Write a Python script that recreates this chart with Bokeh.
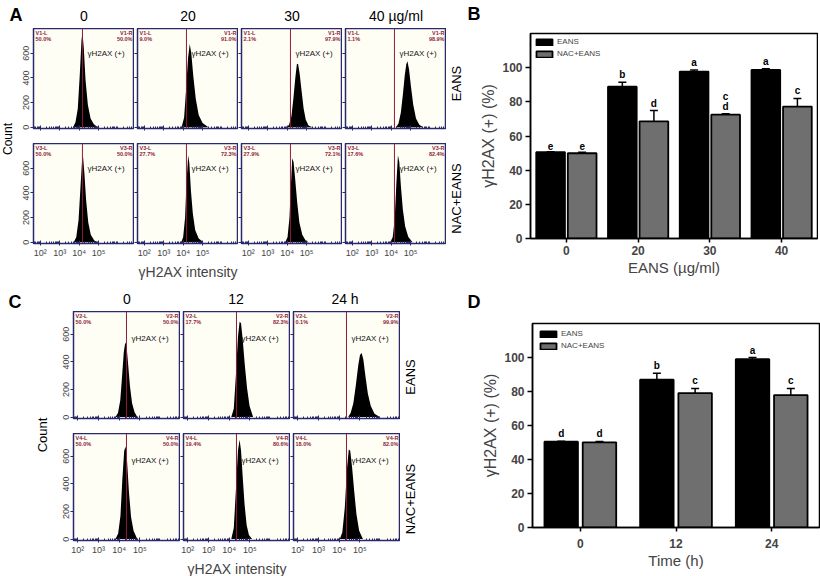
import math
from bokeh.plotting import figure
from bokeh.layouts import row, column
from bokeh.models import (Range1d, FixedTicker, Span, ColumnDataSource, FactorRange,
                          Whisker, TeeHead)
from bokeh.transform import dodge
from bokeh.core.properties import value
from bokeh.embed import file_html
from bokeh.resources import INLINE

FONT = "Liberation Sans"

# ---------------------------------------------------------------- data
row_names = ["EANS", "NAC+EANS"]
A_doses = ["0", "20", "30", "40 µg/ml"]
C_times = ["0", "12", "24 h"]
x_tick_labels = {100: "10²", 1000: "10³", 10000: "10⁴", 100000: "10⁵"}
count_ticks = [0, 200, 400, 600]
hist_xlabel = "γH2AX intensity"
gate_text = "γH2AX (+)"

A_gate = 4.17   # log10 intensity of the gate
C_gate = 4.35

# panel A histograms (log10 intensity, count)
A_e0_x = [3.69, 3.81, 3.93, 4.03, 4.12, 4.17, 4.24, 4.33, 4.45, 4.59, 4.76, 4.96]
A_e0_n = [0, 40, 150, 420, 700, 770, 640, 380, 180, 70, 25, 0]
A_e20_x = [3.92, 4.05, 4.15, 4.25, 4.34, 4.42, 4.52, 4.65, 4.80, 5.00, 5.30]
A_e20_n = [0, 80, 300, 560, 675, 600, 420, 230, 100, 35, 0]
A_e30_x = [3.98, 4.10, 4.22, 4.32, 4.42, 4.50, 4.56, 4.64, 4.74, 4.85, 4.96, 5.10, 5.30]
A_e30_n = [0, 20, 90, 230, 400, 510, 515, 440, 300, 150, 60, 15, 0]
A_e40_x = [4.25, 4.38, 4.50, 4.60, 4.70, 4.78, 4.84, 4.92, 5.02, 5.14, 5.28, 5.45, 5.65]
A_e40_n = [0, 30, 120, 260, 420, 510, 535, 470, 330, 180, 70, 20, 0]
A_n0_x = [3.72, 3.85, 3.97, 4.07, 4.15, 4.20, 4.27, 4.36, 4.47, 4.60, 4.78, 4.95]
A_n0_n = [0, 40, 180, 450, 660, 695, 560, 340, 160, 60, 15, 0]
A_n20_x = [3.90, 4.00, 4.10, 4.18, 4.26, 4.32, 4.40, 4.50, 4.62, 4.80, 5.05]
A_n20_n = [0, 40, 200, 500, 705, 640, 420, 230, 100, 30, 0]
A_n30_x = [3.90, 4.02, 4.12, 4.20, 4.26, 4.33, 4.42, 4.52, 4.63, 4.78, 4.95, 5.12]
A_n30_n = [0, 40, 200, 480, 680, 650, 500, 320, 160, 60, 15, 0]
A_n40_x = [3.95, 4.08, 4.18, 4.27, 4.35, 4.42, 4.50, 4.60, 4.72, 4.88, 5.10]
A_n40_n = [0, 40, 180, 480, 705, 650, 460, 270, 130, 45, 0]

A_gate_tags = [["V1-L", "V1-R"], ["V3-L", "V3-R"]]
A_pct_L = [[50.0, 9.0, 2.1, 1.1], [50.0, 27.7, 27.9, 17.6]]
A_pct_R = [[50.0, 91.0, 97.9, 98.9], [50.0, 72.3, 72.1, 82.4]]

# panel C histograms
C_e0_x = [3.82, 3.94, 4.05, 4.14, 4.22, 4.29, 4.35, 4.42, 4.52, 4.62, 4.74, 4.87]
C_e0_n = [0, 30, 120, 300, 470, 540, 520, 400, 220, 100, 35, 0]
C_e12_x = [4.10, 4.22, 4.32, 4.42, 4.50, 4.57, 4.65, 4.75, 4.86, 4.98, 5.15]
C_e12_n = [0, 60, 300, 580, 690, 680, 560, 380, 210, 80, 0]
C_e24_x = [4.43, 4.55, 4.68, 4.80, 4.92, 5.00, 5.08, 5.16, 5.26, 5.38, 5.52, 5.70, 5.95]
C_e24_n = [0, 30, 100, 230, 380, 450, 465, 420, 300, 170, 80, 25, 0]
C_n0_x = [3.82, 3.95, 4.06, 4.15, 4.24, 4.31, 4.38, 4.47, 4.57, 4.69, 4.87]
C_n0_n = [0, 40, 170, 430, 640, 670, 560, 340, 160, 60, 0]
C_n12_x = [4.10, 4.22, 4.32, 4.42, 4.50, 4.57, 4.65, 4.74, 4.84, 4.95, 5.10]
C_n12_n = [0, 80, 350, 640, 720, 640, 450, 250, 100, 30, 0]
C_n24_x = [4.03, 4.15, 4.27, 4.38, 4.46, 4.53, 4.62, 4.72, 4.83, 4.96, 5.14]
C_n24_n = [0, 50, 230, 520, 650, 640, 520, 350, 180, 60, 0]

C_gate_tags = [["V2-L", "V2-R"], ["V4-L", "V4-R"]]
C_pct_L = [[50.0, 17.7, 0.1], [50.0, 19.4, 18.0]]
C_pct_R = [[50.0, 82.3, 99.9], [50.0, 80.6, 82.0]]

# panel B bars
B_doses = ["0", "20", "30", "40"]
B_eans = [50.5, 88.9, 97.7, 98.7]
B_eans_err = [0.3, 2.5, 1.0, 0.6]
B_nac = [49.9, 68.6, 72.5, 77.2]
B_nac_err = [0.6, 6.3, 0.5, 4.8]
B_eans_let = ["e", "b", "a", "a"]
B_nac_let = ["e", "d", "c\nd", "c"]

# panel D bars
D_times = ["0", "12", "24"]
D_eans = [50.5, 86.9, 99.0]
D_eans_err = [0.3, 3.9, 1.0]
D_nac = [50.1, 79.1, 77.9]
D_nac_err = [0.5, 2.7, 3.9]
D_eans_let = ["d", "b", "a"]
D_nac_let = ["d", "c", "c"]

bar_yticks = [0, 20, 40, 60, 80, 100]
y_title = "γH2AX (+) (%)"

# ---------------------------------------------------------------- geometry
W = 818
A_FW, A_FH, A_GAP, A_LB, A_BB1, A_BB2, A_CNT, A_LAB = 101, 100, 3, 16, 15, 47, 17, 19
C_FW, C_FH, C_GAP, C_LB, C_BB1, C_BB2, C_CNT, C_LAB = 107, 107, 2, 23, 15, 34, 50, 20
A_XLOG, A_YLIM = (1.65, 6.85), (-10, 800)
C_XLOG, C_YLIM = (1.80, 6.95), (-10, 765)
BAR_FW = 287
TOP_STRIP, BOT_STRIP = 28, 21
LETTER_DX = 63

NAVY = "#29296c"
GATE = "#8c1c3c"
GREY = "#6f6f6f"

minor = [m * 10 ** k for k in range(1, 7) for m in range(2, 10)]


def strip(w, h):
    p = figure(x_range=Range1d(0, w), y_range=Range1d(0, h), frame_width=w, frame_height=h,
               min_border_left=0, min_border_right=0, min_border_top=0, min_border_bottom=0,
               x_axis_location=None, y_axis_location=None, toolbar_location=None,
               output_backend="svg", title=None)
    p.outline_line_color = None
    p.grid.visible = False
    return p


def put(p, x, y, t, size, bold=False, align="center", angle=0.0):
    p.text(x=[x], y=[y], text=[t], angle=angle, text_align=align, text_baseline="middle",
           text_font=value(FONT), text_font_size=f"{size}px",
           text_font_style="bold" if bold else "normal", text_color="black")


def hide_labels(ax):
    ax.major_label_text_font_size = "1px"
    ax.major_label_text_color = None
    ax.major_label_standoff = 0


def hist_fig(xs, ns, gate, xlog, ylim, fw, fh, bl, bb, first_col, bottom_row,
             tags, pcts, xlabel=None, label_y=600):
    p = figure(x_axis_type="log", x_range=Range1d(10 ** xlog[0], 10 ** xlog[1]),
               y_range=Range1d(*ylim), frame_width=fw, frame_height=fh,
               min_border_left=bl, min_border_right=0, min_border_top=0, min_border_bottom=bb,
               toolbar_location=None, output_backend="svg", title=None)
    p.background_fill_color = "#fffef4"
    p.outline_line_color = NAVY
    p.outline_line_width = 1.5
    p.grid.visible = False
    p.varea(x=[10 ** v for v in xs], y1=0, y2=ns, fill_color="black")
    p.add_layout(Span(location=10 ** gate, dimension="height", line_color=GATE, line_width=1))
    p.text(x=[10 ** xlog[0]], y=[ylim[1]], text=[f"{tags[0]}\n{pcts[0]:.1f}%"],
           x_offset=2, y_offset=1, text_align="left", text_baseline="top",
           text_font=value(FONT), text_font_size="5.5px", text_font_style="bold",
           text_color=GATE, text_line_height=1.0)
    p.text(x=[10 ** xlog[1]], y=[ylim[1]], text=[f"{tags[1]}\n{pcts[1]:.1f}%"],
           x_offset=-2, y_offset=1, text_align="right", text_baseline="top",
           text_font=value(FONT), text_font_size="5.5px", text_font_style="bold",
           text_color=GATE, text_line_height=1.0)
    p.text(x=[10 ** gate], y=[label_y], text=[gate_text], x_offset=5,
           text_align="left", text_baseline="middle", text_font=value(FONT),
           text_font_size="8px", text_color="#111111")

    xa = p.xaxis[0]
    xa.ticker = FixedTicker(ticks=list(x_tick_labels.keys()), minor_ticks=minor)
    xa.major_label_overrides = dict(x_tick_labels)
    xa.axis_line_color = NAVY
    xa.major_tick_line_color = NAVY
    xa.minor_tick_line_color = NAVY
    xa.major_tick_in, xa.major_tick_out = 3, 2
    xa.minor_tick_in, xa.minor_tick_out = 2, 0
    xa.major_label_text_font = FONT
    if bottom_row:
        xa.major_label_text_font_size = "9px"
        xa.major_label_standoff = 2
    else:
        hide_labels(xa)
    if xlabel:
        xa.axis_label = xlabel
        xa.axis_label_text_font = FONT
        xa.axis_label_text_font_size = "14px"
        xa.axis_label_text_font_style = "normal"
        xa.axis_label_standoff = 3

    ya = p.yaxis[0]
    ya.ticker = FixedTicker(ticks=count_ticks)
    ya.axis_line_color = NAVY
    ya.major_tick_line_color = NAVY
    ya.major_tick_in, ya.major_tick_out = 0, 3
    ya.minor_tick_in, ya.minor_tick_out = 0, 0
    ya.major_label_text_font = FONT
    if first_col:
        ya.major_label_text_font_size = "9px"
        ya.major_label_orientation = "vertical"
        ya.major_label_standoff = 1
    else:
        hide_labels(ya)
    return p


def bar_fig(cats, eans, eerr, nac, nerr, elet, nlet, xlabel, bl, bt, fh, bb, off, bw, lab_sd,
            lg_margin):
    etop = [v + e for v, e in zip(eans, eerr)]
    ntop = [v + e for v, e in zip(nac, nerr)]
    src = ColumnDataSource(dict(cat=cats, eans=eans, nac=nac, etop=etop, ntop=ntop,
                                elet=elet, nlet=nlet))
    p = figure(x_range=FactorRange(factors=cats), y_range=Range1d(0, 120),
               frame_width=BAR_FW, frame_height=fh, min_border_left=bl, min_border_right=1,
               min_border_top=bt, min_border_bottom=bb, toolbar_location=None,
               output_backend="svg", title=None)
    p.grid.visible = False
    p.outline_line_color = "black"
    p.outline_line_width = 1.5
    xe = dodge("cat", -off, range=p.x_range)
    xn = dodge("cat", off, range=p.x_range)
    p.vbar(x=xe, top="eans", width=bw, source=src, fill_color="black",
           line_color="black", line_width=1.8, legend_label="EANS")
    p.vbar(x=xn, top="nac", width=bw, source=src, fill_color=GREY,
           line_color="black", line_width=1.8, legend_label="NAC+EANS")
    for xx, lo, hi in ((xe, "eans", "etop"), (xn, "nac", "ntop")):
        w = Whisker(base=xx, lower=lo, upper=hi, source=src, line_color="black",
                    line_width=1.5, lower_head=None,
                    upper_head=TeeHead(size=8, line_width=1.5, line_color="black"))
        w.level = "overlay"
        p.add_layout(w)
    for xx, yy, tt in ((xe, "etop", "elet"), (xn, "ntop", "nlet")):
        p.text(x=xx, y=yy, text=tt, source=src, text_align="center", text_baseline="bottom",
               y_offset=-2, text_font=value(FONT), text_font_size="10px",
               text_font_style="bold", text_color="black", text_line_height=0.9)
    lg = p.legend[0]
    lg.location = "top_left"
    lg.glyph_width, lg.glyph_height = 20, 8
    lg.label_text_font = FONT
    lg.label_text_font_size = "8px"
    lg.label_height = 9
    lg.spacing = 3
    lg.padding = 2
    lg.margin = lg_margin
    lg.label_standoff = 3
    lg.border_line_color = None
    lg.background_fill_alpha = 0

    ya = p.yaxis[0]
    ya.ticker = FixedTicker(ticks=bar_yticks)
    ya.major_tick_out, ya.major_tick_in = 5, 0
    ya.minor_tick_out, ya.minor_tick_in = 0, 0
    ya.axis_line_width = 1.5
    ya.major_tick_line_width = 1.5
    ya.major_label_text_font = FONT
    ya.major_label_text_font_size = "12px"
    ya.major_label_text_font_style = "bold"
    ya.major_label_standoff = 3
    ya.axis_label = y_title
    ya.axis_label_text_font = FONT
    ya.axis_label_text_font_size = "16px"
    ya.axis_label_text_font_style = "normal"
    ya.axis_label_standoff = 2

    xa = p.xaxis[0]
    xa.major_tick_out, xa.major_tick_in = 4, 0
    xa.axis_line_width = 1.5
    xa.major_tick_line_width = 1.5
    xa.major_label_text_font = FONT
    xa.major_label_text_font_size = "12px"
    xa.major_label_text_font_style = "bold"
    xa.major_label_standoff = lab_sd
    xa.axis_label = xlabel
    xa.axis_label_text_font = FONT
    xa.axis_label_text_font_size = "15px"
    xa.axis_label_text_font_style = "normal"
    xa.axis_label_standoff = 1
    return p


# ---------------------------------------------------------------- panel A
A_hist = [[(A_e0_x, A_e0_n), (A_e20_x, A_e20_n), (A_e30_x, A_e30_n), (A_e40_x, A_e40_n)],
          [(A_n0_x, A_n0_n), (A_n20_x, A_n20_n), (A_n30_x, A_n30_n), (A_n40_x, A_n40_n)]]
A_rows = []
for r in range(2):
    figs = []
    for c in range(4):
        xs, ns = A_hist[r][c]
        figs.append(hist_fig(xs, ns, A_gate, A_XLOG, A_YLIM, A_FW, A_FH,
                             A_LB if c == 0 else A_GAP, A_BB1 if r == 0 else A_BB2,
                             c == 0, r == 1, A_gate_tags[r], (A_pct_L[r][c], A_pct_R[r][c]),
                             hist_xlabel if (r == 1 and c == 1) else None, 600))
    A_rows.append(row(*figs))

# ---------------------------------------------------------------- panel C
C_hist = [[(C_e0_x, C_e0_n), (C_e12_x, C_e12_n), (C_e24_x, C_e24_n)],
          [(C_n0_x, C_n0_n), (C_n12_x, C_n12_n), (C_n24_x, C_n24_n)]]
C_rows = []
for r in range(2):
    figs = []
    for c in range(3):
        xs, ns = C_hist[r][c]
        figs.append(hist_fig(xs, ns, C_gate, C_XLOG, C_YLIM, C_FW, C_FH,
                             C_LB if c == 0 else C_GAP, C_BB1 if r == 0 else C_BB2,
                             c == 0, r == 1, C_gate_tags[r], (C_pct_L[r][c], C_pct_R[r][c]),
                             hist_xlabel if (r == 1 and c == 1) else None, 570))
    C_rows.append(row(*figs))

# ---------------------------------------------------------------- panels B, D
A_block_w = A_CNT + A_LB + 4 * A_FW + 3 * A_GAP + A_LAB
C_block_w = C_CNT + C_LB + 3 * C_FW + 2 * C_GAP + C_LAB
A_h = A_FH + A_BB1 + A_FH + A_BB2
C_h = C_FH + C_BB1 + C_FH + C_BB2

B_bl = W - A_block_w - BAR_FW - 1
D_bl = W - C_block_w - BAR_FW - 1
figB = bar_fig(B_doses, B_eans, B_eans_err, B_nac, B_nac_err, B_eans_let, B_nac_let,
               "EANS (µg/ml)", B_bl, 5, 205, A_h - 5 - 205, 0.22, 0.40, 3, 4)
figD = bar_fig(D_times, D_eans, D_eans_err, D_nac, D_nac_err, D_eans_let, D_nac_let,
               "Time (h)", D_bl, 12, 204, C_h - 12 - 204, 0.20, 0.35, 7, 6)

# ---------------------------------------------------------------- text strips
top = strip(W, TOP_STRIP)
put(top, 9, 14, "A", 18, bold=True, align="left")
for i, t in enumerate(A_doses):
    put(top, A_CNT + A_LB + i * (A_FW + A_GAP) + A_FW / 2, 13, t, 14)
put(top, A_block_w + B_bl - LETTER_DX, 15, "B", 18, bold=True, align="left")

bot = strip(W, BOT_STRIP)
put(bot, 8, 10, "C", 18, bold=True, align="left")
for i, t in enumerate(C_times):
    put(bot, C_CNT + C_LB + i * (C_FW + C_GAP) + C_FW / 2, 13, t, 14)
put(bot, C_block_w + D_bl - LETTER_DX, 10, "D", 18, bold=True, align="left")

cntA = strip(A_CNT, A_h)
put(cntA, 7, A_h - (A_FH + A_BB1 / 2) + 2, "Count", 12, angle=math.pi / 2)
labA = strip(A_LAB, A_h)
put(labA, A_LAB / 2, A_h - A_FH / 2, row_names[0], 13, angle=math.pi / 2)
put(labA, A_LAB / 2, A_h - (A_FH + A_BB1 + A_FH / 2), row_names[1], 13, angle=math.pi / 2)

cntC = strip(C_CNT, C_h)
put(cntC, C_CNT - 8, C_h - (C_FH + C_BB1 / 2) + 3, "Count", 13, angle=math.pi / 2)
labC = strip(C_LAB, C_h)
put(labC, C_LAB / 2, C_h - C_FH / 2, row_names[0], 13, angle=math.pi / 2)
put(labC, C_LAB / 2, C_h - (C_FH + C_BB1 + C_FH / 2), row_names[1], 13, angle=math.pi / 2)

layout = column(
    top,
    row(cntA, column(*A_rows), labA, figB),
    bot,
    row(cntC, column(*C_rows), labC, figD),
)

open("out.html", "w").write(file_html(layout, INLINE))
